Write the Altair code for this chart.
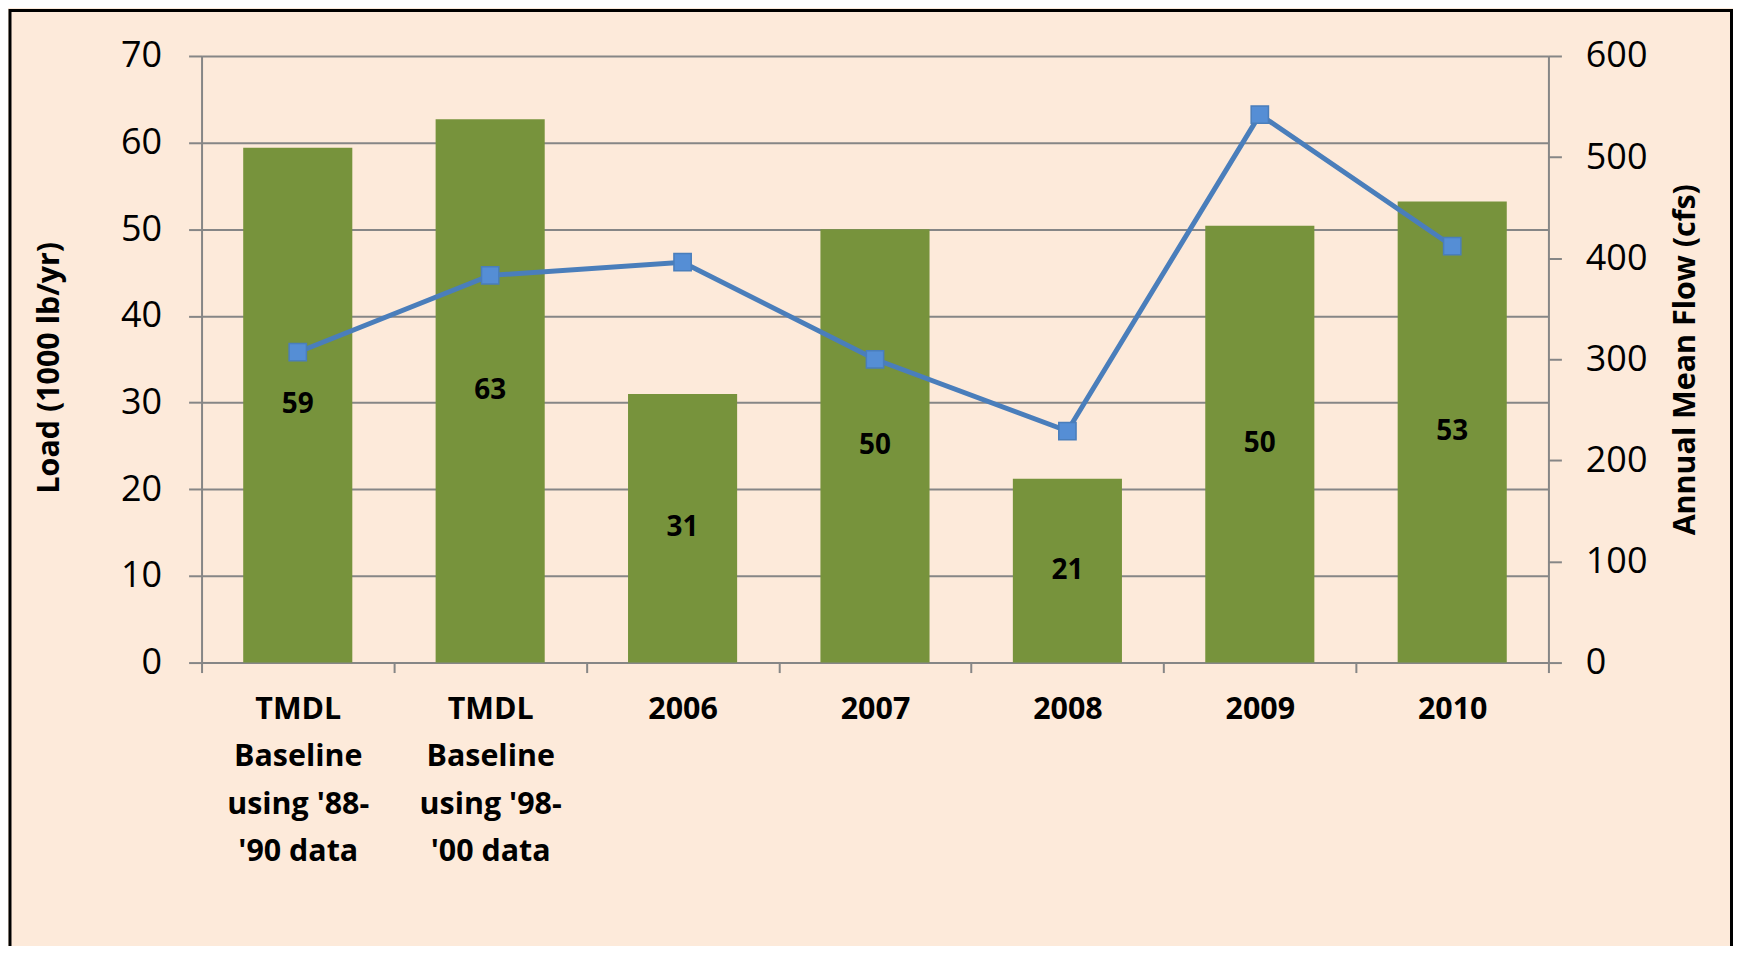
import altair as alt
import pandas as pd

# ---- data ----
categories = [
    "TMDL\nBaseline\nusing '88-\n'90 data",
    "TMDL\nBaseline\nusing '98-\n'00 data",
    "2006", "2007", "2008", "2009", "2010",
]
load = [59.4, 62.7, 31.0, 50.0, 21.2, 50.4, 53.2]        # 1000 lb/yr (bars)
flow = [307, 383, 396, 300, 229, 542, 412]               # cfs (line)
left_ticks = [0, 10, 20, 30, 40, 50, 60, 70]
right_ticks = [0, 100, 200, 300, 400, 500, 600]

df = pd.DataFrame({"category": categories, "load": load, "flow": flow})

W, H = 1350, 608
FONT = "Open Sans"
GRID = "#868686"

x_enc = alt.X(
    "category:N", sort=categories, title=None,
    scale=alt.Scale(paddingInner=0, paddingOuter=0),
    axis=alt.Axis(
        labelAngle=0, labelExpr="split(datum.label, '\\n')",
        tickBand="extent", labelLineHeight=47.5, labelFont=FONT,
        labelFontWeight="bold", labelFontSize=30.5, labelPadding=22,
        tickSize=10, labelBaseline="top", grid=False, labelColor="black",
        labelLimit=0, labelOverlap=False,
    ),
)

left_scale = alt.Scale(domain=[0, 70], nice=False, zero=True)
left_axis = alt.Axis(
    values=left_ticks, grid=True, title="Load (1000 lb/yr)",
    tickSize=13, labelPadding=27, labelFontSize=36, labelFont=FONT,
    titleFont=FONT, titleFontWeight="bold", titleFontSize=30.5,
    titleX=-152, titleY=312, titleAngle=270, titleAlign="center",
    titleBaseline="middle",
)

bars = alt.Chart(df).mark_bar(
    color="#77933C", width=alt.RelativeBandSize(0.567)
).encode(
    x=x_enc,
    y=alt.Y("load:Q", scale=left_scale, axis=left_axis),
)

labels = alt.Chart(df).transform_calculate(
    mid="datum.load / 2"
).mark_text(
    font=FONT, fontWeight="bold", fontSize=28, color="black",
    baseline="middle", align="center",
).encode(
    x=x_enc,
    y=alt.Y("mid:Q", scale=left_scale, axis=left_axis),
    text=alt.Text("load:Q", format=".0f"),
)

right_axis = alt.Axis(
    orient="right", values=right_ticks, grid=False,
    title="Annual Mean Flow (cfs)", tickSize=13, labelPadding=24,
    labelFontSize=36, labelFont=FONT, titleFont=FONT,
    titleFontWeight="bold", titleFontSize=30.5, titleX=137, titleY=304,
    titleAngle=270, titleAlign="center", titleBaseline="middle",
)

line = alt.Chart(df).mark_line(
    color="#4A7EBB", strokeWidth=5,
    point=alt.OverlayMarkDef(
        shape="square", size=300, filled=True, fill="#558ED5",
        stroke="#4A7EBB", strokeWidth=1.5, opacity=1,
    ),
).encode(
    x=x_enc,
    y=alt.Y("flow:Q", scale=alt.Scale(domain=[0, 600], nice=False),
            axis=right_axis),
)

frame = alt.Chart(pd.DataFrame({"f": [0]})).mark_rect(
    fillOpacity=0, stroke="black", strokeWidth=3
).encode(
    x=alt.value(-192), x2=alt.value(1533.5),
    y=alt.value(-45.5), y2=alt.value(1000),
)

left = alt.layer(bars, labels)
chart = alt.layer(left, line, frame).resolve_scale(y="independent").properties(
    width=W, height=H,
    background="#FDEADA",
    padding={"left": 194, "top": 47, "right": 185, "bottom": 283},
    autosize=alt.AutoSizeParams(type="none"),
).configure_axis(
    domainColor=GRID, domainWidth=2, tickColor=GRID, tickWidth=2,
    gridColor=GRID, gridWidth=2, gridOpacity=1,
    labelColor="black", titleColor="black",
).configure_view(strokeWidth=0)

chart.save("out.html", embed_options={"renderer": "svg", "actions": False})
